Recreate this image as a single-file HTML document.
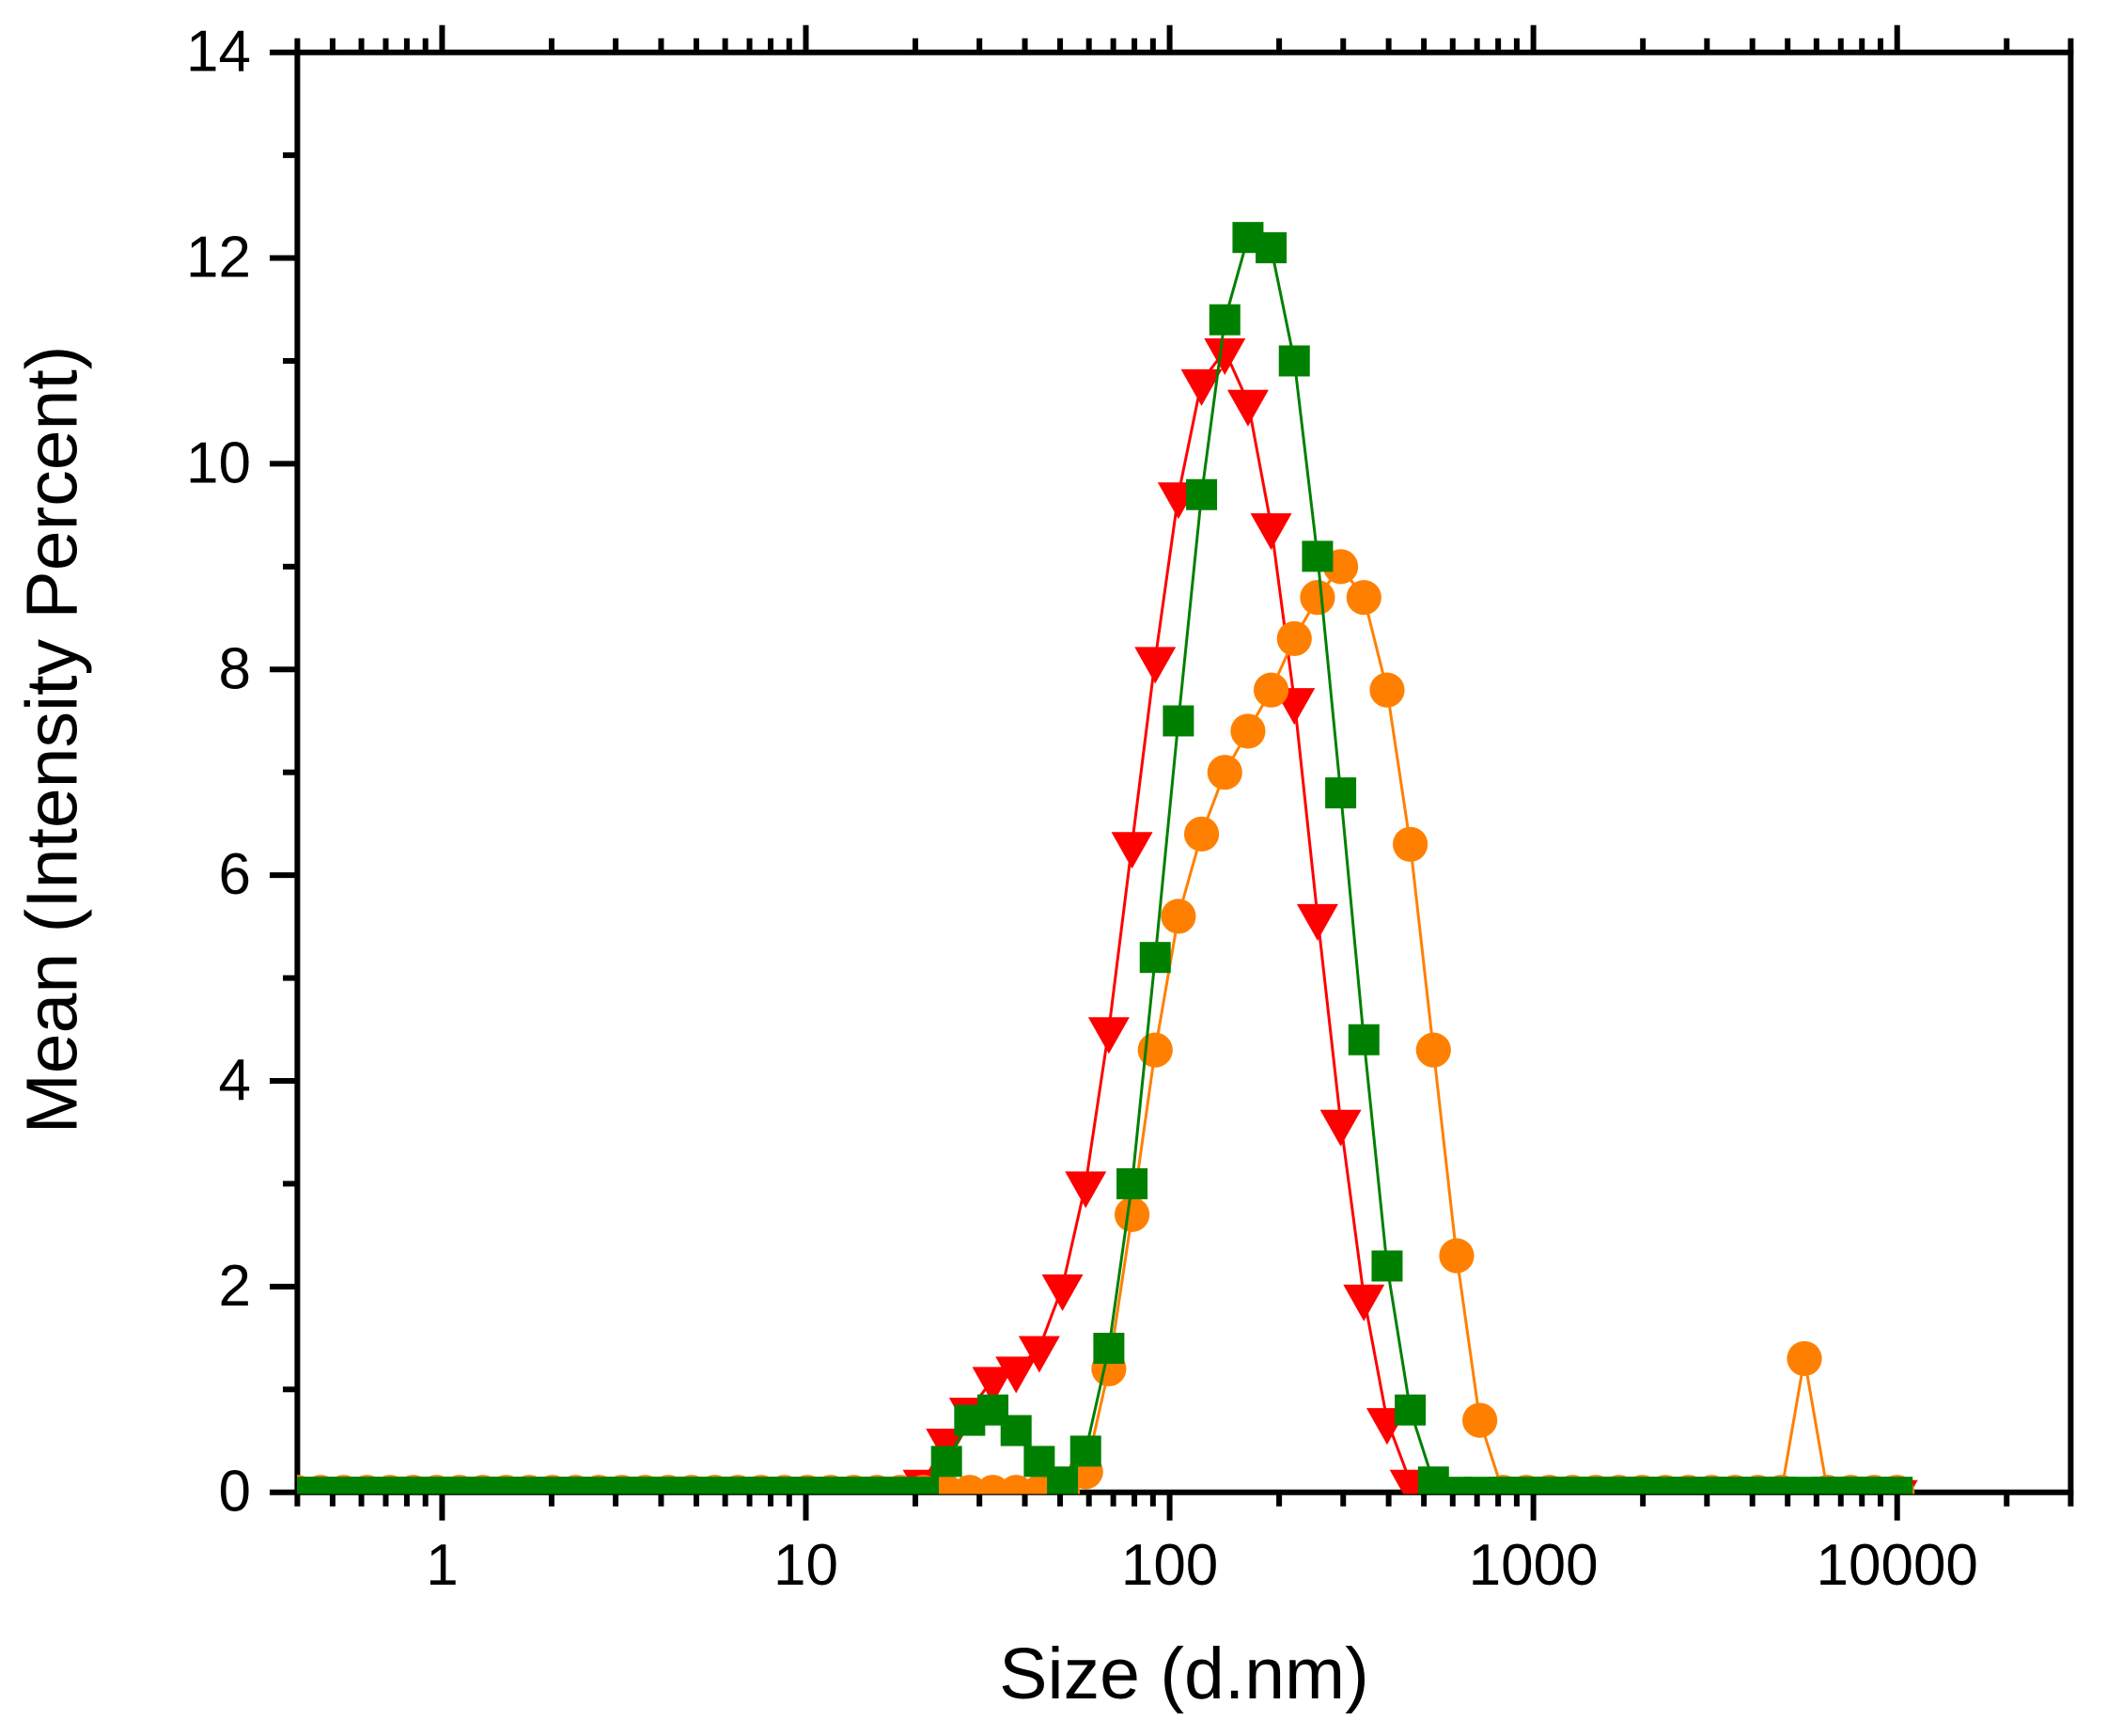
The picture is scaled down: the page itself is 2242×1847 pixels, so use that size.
<!DOCTYPE html>
<html lang="en">
<head>
<meta charset="utf-8">
<title>Mean intensity percent by size</title>
<style>
  html, body { margin: 0; padding: 0; background: #ffffff; }
  body { width: 2242px; height: 1847px; overflow: hidden; }
  svg { display: block; }
  text { font-family: "Liberation Sans", Arial, sans-serif; fill: #000000; }
</style>
</head>
<body>
<svg id="chart" xmlns="http://www.w3.org/2000/svg" width="2242" height="1847" viewBox="0 0 2242 1847">
  <rect x="0" y="0" width="2242" height="1847" fill="#ffffff"/>
  <defs>
    <clipPath id="plot-clip"><rect x="316" y="50" width="1887.5" height="1539.5"/></clipPath>
  </defs>
  <text x="1260" y="1807" font-size="77" text-anchor="middle">Size (d.nm)</text>
  <text transform="translate(81.5 787) rotate(-90)" font-size="77" text-anchor="middle">Mean (Intensity Percent)</text>
  <g id="axes"></g>
  <g id="series" clip-path="url(#plot-clip)"></g>
</svg>
<script>
const sizes = [0.4,0.4632,0.5365,0.6213,0.7195,0.8332,0.9649,1.117,1.294,1.499,1.736,2.01,2.328,2.696,3.122,3.615,4.187,4.849,5.615,6.503,7.531,8.721,10.1,11.7,13.54,15.69,18.17,21.04,24.36,28.21,32.67,37.84,43.82,50.75,58.77,68.06,78.82,91.28,105.7,122.4,141.8,164.2,190.1,220.2,255,295.3,342,396.1,458.7,531.2,615.1,712.4,825,955.4,1106,1281,1484,1718,1990,2305,2669,3091,3580,4145,4801,5560,6439,7456,8635,10000];
const redValues = [0,0,0,0,0,0,0,0,0,0,0,0,0,0,0,0,0,0,0,0,0,0,0,0,0,0,0,0.1,0.5,0.8,1.1,1.2,1.4,2.0,3.0,4.5,6.3,8.1,9.7,10.8,11.1,10.6,9.4,7.7,5.6,3.6,1.9,0.7,0.1,0,0,0,0,0,0,0,0,0,0,0,0,0,0,0,0,0,0,0,0,0];
const orangeValues = [0,0,0,0,0,0,0,0,0,0,0,0,0,0,0,0,0,0,0,0,0,0,0,0,0,0,0,0,0,0,0,0,0,0,0.2,1.2,2.7,4.3,5.6,6.4,7.0,7.4,7.8,8.3,8.7,9.0,8.7,7.8,6.3,4.3,2.3,0.7,0,0,0,0,0,0,0,0,0,0,0,0,0,1.3,0,0,0,0];
const greenValues = [0,0,0,0,0,0,0,0,0,0,0,0,0,0,0,0,0,0,0,0,0,0,0,0,0,0,0,0,0.3,0.7,0.8,0.6,0.3,0.1,0.4,1.4,3.0,5.2,7.5,9.7,11.4,12.2,12.1,11.0,9.1,6.8,4.4,2.2,0.8,0.1,0,0,0,0,0,0,0,0,0,0,0,0,0,0,0,0,0,0,0,0];
const xMajorTicks = [1,10,100,1000,10000];
const xMajorLabels = ["1","10","100","1000","10000"];
const xMinorTicks = [0.4,0.5,0.6,0.7,0.8,0.9,2,3,4,5,6,7,8,9,20,30,40,50,60,70,80,90,200,300,400,500,600,700,800,900,2000,3000,4000,5000,6000,7000,8000,9000,20000,30000];
const yMajorTicks = [0,2,4,6,8,10,12,14];
const yMajorLabels = ["0","2","4","6","8","10","12","14"];
const yMinorTicks = [1,3,5,7,9,11,13];

const NS = 'http://www.w3.org/2000/svg';
const X_MIN = 0.4, X_MAX = 30000, Y_MIN = 0, Y_MAX = 14;
const LEFT = 316.4, RIGHT = 2203.4, TOP = 55.7, BOTTOM = 1587.7;
const SW = 6;
const xScale = v => LEFT + (Math.log10(v) - Math.log10(X_MIN)) / (Math.log10(X_MAX) - Math.log10(X_MIN)) * (RIGHT - LEFT);
const yScale = v => BOTTOM - (v - Y_MIN) / (Y_MAX - Y_MIN) * (BOTTOM - TOP);
const axes = document.getElementById('axes');
const seriesRoot = document.getElementById('series');

function make(tag, attrs, parent) {
  const el = document.createElementNS(NS, tag);
  for (const k in attrs) el.setAttribute(k, attrs[k]);
  parent.appendChild(el);
  return el;
}
function rule(x1, y1, x2, y2, parent) {
  return make('line', {x1, y1, x2, y2, stroke: '#000000', 'stroke-width': SW}, parent);
}

let el;
el = rule(LEFT - SW / 2, BOTTOM, RIGHT + SW / 2, BOTTOM, axes);


el = rule(LEFT - SW / 2, TOP, RIGHT + SW / 2, TOP, axes);


el = rule(LEFT, TOP - SW / 2, LEFT, BOTTOM + SW / 2, axes);


el = rule(RIGHT, TOP - SW / 2, RIGHT, BOTTOM + SW / 2, axes);



xMajorTicks.forEach((v, i) => {
  const x = xScale(v);
  let t = rule(x, BOTTOM, x, BOTTOM + 30, axes);
  
  
  t = rule(x, TOP, x, TOP - 29, axes);
  
  
  const label = make('text', {x: x, y: 1686, 'font-size': 62, 'text-anchor': 'middle'}, axes);
  label.textContent = xMajorLabels[i];
  
  
});
xMinorTicks.forEach(v => {
  const x = xScale(v);
  let t = rule(x, BOTTOM, x, BOTTOM + 15, axes);
  
  
  t = rule(x, TOP, x, TOP - 15, axes);
  
  
});
yMajorTicks.forEach((v, i) => {
  const y = yScale(v);
  const t = rule(LEFT, y, 287, y, axes);
  
  
  const label = make('text', {x: 267, y: y + 20, 'font-size': 62, 'text-anchor': 'end'}, axes);
  label.textContent = yMajorLabels[i];
  
  
});
yMinorTicks.forEach(v => {
  const y = yScale(v);
  const t = rule(LEFT, y, 301, y, axes);
  
  
});

function seriesLine(values, color, parent) {
  const pts = values.map((v, i) => xScale(sizes[i]).toFixed(2) + ',' + yScale(v).toFixed(2)).join(' ');
  return make('polyline', {points: pts, fill: 'none', stroke: color, 'stroke-width': 3, 'stroke-linejoin': 'round'}, parent);
}

// Red series: downward triangles
const redGroup = make('g', {}, seriesRoot);


el = seriesLine(redValues, '#ff0000', redGroup);


redValues.forEach((v, i) => {
  const x = xScale(sizes[i]), y = yScale(v);
  const p = make('polygon', {points: `${x - 22},${y - 13} ${x + 22},${y - 13} ${x},${y + 26}`, fill: '#ff0000'}, redGroup);
  
  
});

// Orange series: circles
const orangeGroup = make('g', {}, seriesRoot);


el = seriesLine(orangeValues, '#ff8000', orangeGroup);


orangeValues.forEach((v, i) => {
  const c = make('circle', {cx: xScale(sizes[i]), cy: yScale(v), r: 18.6, fill: '#ff8000'}, orangeGroup);
  
  
});

// Green series: squares
const greenGroup = make('g', {}, seriesRoot);


el = seriesLine(greenValues, '#008000', greenGroup);


greenValues.forEach((v, i) => {
  const r = make('rect', {x: xScale(sizes[i]) - 16.5, y: yScale(v) - 16.5, width: 33, height: 33, fill: '#008000'}, greenGroup);
  
  
});
</script>
</body>
</html>
